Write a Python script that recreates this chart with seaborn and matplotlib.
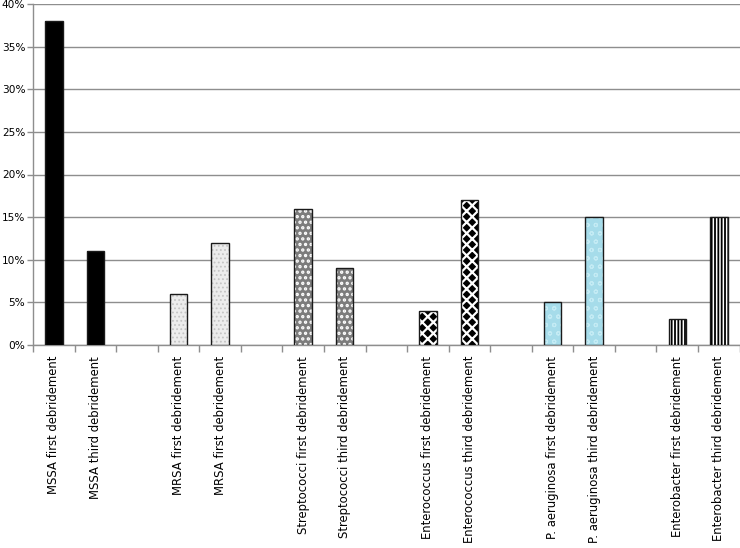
import matplotlib
matplotlib.use("Agg")
import matplotlib.pyplot as plt
import matplotlib as mpl
from matplotlib.patches import Rectangle
from matplotlib.ticker import PercentFormatter, FixedLocator
import seaborn as sns
import pandas as pd

# ---- data ----
slot_keys = ["MSSA_1", "MSSA_3", "gap1", "MRSA_1", "MRSA_3", "gap2",
             "Strep_1", "Strep_3", "gap3", "Entero_1", "Entero_3", "gap4",
             "Paer_1", "Paer_3", "gap5", "Enterob_1", "Enterob_3"]
tick_labels = ["MSSA first debridement", "MSSA third debridement", "",
               "MRSA first debridement", "MRSA first debridement", "",
               "Streptococci first debridement", "Streptococci third debridement", "",
               "Enterococcus first debridement", "Enterococcus third debridement", "",
               "P. aeruginosa first debridement", "P. aeruginosa third debridement", "",
               "Enterobacter first debridement", "Enterobacter third debridement"]
bar_keys = ["MSSA_1", "MSSA_3", "MRSA_1", "MRSA_3", "Strep_1", "Strep_3",
            "Entero_1", "Entero_3", "Paer_1", "Paer_3", "Enterob_1", "Enterob_3"]
bar_values = [38, 11, 6, 12, 16, 9, 4, 17, 5, 15, 3, 15]
organism = ["MSSA", "MSSA", "MRSA", "MRSA", "Strep", "Strep",
            "Entero", "Entero", "Paer", "Paer", "Enterob", "Enterob"]

# style per organism: facecolor, hatch, hatch colour, hatch linewidth
styles = {
    "MSSA":    ("#000000", None, None, 1.0),
    "MRSA":    ("#ececec", "....", "#c4c4c4", 0.8),
    "Strep":   ("#7c7c7c", "...", "#ffffff", 1.6),
    "Entero":  ("#000000", "xxx", "#ffffff", 1.6),
    "Paer":    ("#a6dcea", "oo", "#c4ebf4", 0.8),
    "Enterob": ("#ffffff", "|||||", "#000000", 1.3),
}

df = pd.DataFrame({"slot": bar_keys, "value": bar_values, "org": organism})

fig = plt.figure(figsize=(7.4, 5.48), dpi=100)
ax = fig.add_axes([33 / 740, 1 - 345 / 548, 1 - 33 / 740 - 0.0005, (345 - 4) / 548])

pal = {k: styles[o][0] for k, o in zip(bar_keys, organism)}
sns.barplot(data=df, x="slot", y="value", order=slot_keys, hue="slot",
            palette=pal, legend=False, width=0.42, ax=ax, zorder=3,
            linewidth=0)

slot_to_org = dict(zip(bar_keys, organism))
patches = list(ax.patches)
for p in patches:
    cx = p.get_x() + p.get_width() / 2
    idx = int(round(cx))
    org = slot_to_org[slot_keys[idx]]
    fc, hatch, hc, hlw = styles[org]
    p.set_facecolor(fc)
    if hatch:
        p.set_hatch(hatch)
        p.set_edgecolor(hc)
        p.set_linewidth(0)
        if hasattr(p, "set_hatch_linewidth"):
            p.set_hatch_linewidth(hlw)
    else:
        p.set_edgecolor(fc)
        p.set_linewidth(0)
    outline = Rectangle(p.get_xy(), p.get_width(), p.get_height(), fill=False,
                        edgecolor="#1a1a1a", linewidth=1.0, zorder=4)
    ax.add_patch(outline)

ax.set_ylim(0, 40)
ax.set_xlim(-0.5, len(slot_keys) - 0.5)
ax.yaxis.set_major_locator(FixedLocator([0, 5, 10, 15, 20, 25, 30, 35, 40]))
ax.yaxis.set_major_formatter(PercentFormatter(decimals=0))
ax.grid(axis="y", color="#8e8e8e", linewidth=1.0, zorder=0)
ax.set_axisbelow(True)

ax.set_xticks(range(len(slot_keys)))
ax.set_xticklabels(tick_labels, rotation=90, fontsize=8.4, va="top", ha="center")
ax.xaxis.set_minor_locator(FixedLocator([i - 0.5 for i in range(len(slot_keys) + 1)]))
ax.tick_params(axis="x", which="major", length=0, pad=8)
ax.tick_params(axis="x", which="minor", length=5, color="#8e8e8e", width=1)
ax.tick_params(axis="y", length=4, color="#8e8e8e", width=1, labelsize=7.6, pad=1.5)

for s in ["top", "right"]:
    ax.spines[s].set_visible(False)
for s in ["left", "bottom"]:
    ax.spines[s].set_color("#8e8e8e")
    ax.spines[s].set_linewidth(1)
ax.set_xlabel("")
ax.set_ylabel("")

fig.savefig("out.png", dpi=100)
